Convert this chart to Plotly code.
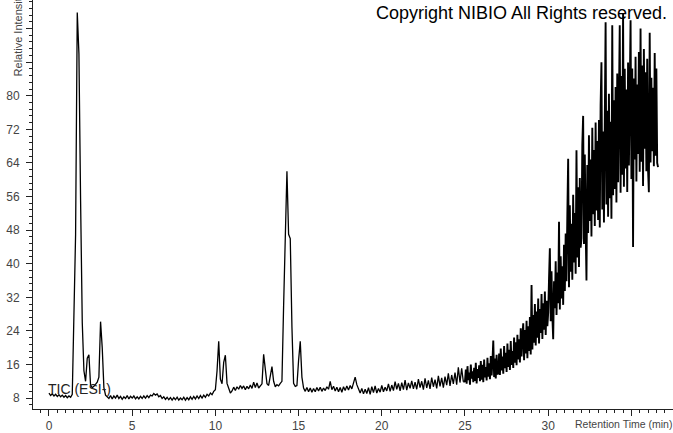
import numpy as np
import plotly.graph_objects as go

# Sampling intervals (min) of the two digitised parts of the chromatogram
dt_a = 0.1     # 0.0 - 24.9 min
t0_b = 25.0
dt_b = 0.05    # 25.00 - 36.60 min

# Relative intensity, 0.0 - 24.9 min (step 0.1)
tic_a = [
    9.2, 8.6, 9.0, 8.5, 8.9, 8.4, 8.8, 8.3, 8.7, 8.2, 8.6, 8.1, 8.5, 8.2, 8.9,
    24.5, 47.0, 99.8, 90.0, 55.0, 26.0, 14.5, 12.0, 17.5, 18.3, 11.0, 10.5, 10.8, 11.2, 11.8,
    13.0, 26.2, 20.0, 10.5, 8.7,
    8.3, 7.9, 8.6, 7.8, 8.5, 8.0, 8.7, 7.9, 8.4, 7.7, 8.3, 7.9, 8.6, 7.8, 8.4,
    8.0, 8.5, 7.8, 8.3, 7.8, 8.4, 7.9, 8.5, 8.0, 8.6, 8.1, 8.7, 8.5, 9.1, 8.7,
    9.0, 8.3, 8.6, 7.9, 8.3, 7.7, 8.2, 7.6, 8.1, 7.5, 8.1, 7.6, 8.2, 7.5, 8.0,
    7.6, 8.2, 7.5, 8.1, 7.6, 8.3, 7.7, 8.4, 7.8, 8.5, 7.9, 8.6, 8.0, 8.7, 8.2,
    8.9, 8.5, 9.2, 8.8, 9.6,
    10.0, 14.5, 21.5, 12.5, 11.4, 16.5, 18.2, 11.5, 10.2, 9.2,
    9.7, 10.6, 9.8, 10.7, 10.1, 11.0, 10.3, 10.9, 10.0, 10.8, 10.2, 11.1, 10.3, 11.8, 10.5,
    11.6, 10.4, 11.0, 11.4,
    18.4, 14.0, 11.4, 11.0, 13.5, 15.5, 12.0, 10.7, 11.2, 10.9, 11.5,
    12.0, 30.0, 45.0, 62.0, 47.0, 46.0, 25.0, 11.5, 10.8, 11.0,
    17.0, 21.5, 13.0, 10.4,
    9.6, 10.5, 9.5, 10.4, 9.4, 10.3, 9.5, 10.5, 9.7, 10.6, 9.6, 10.4, 9.8, 10.7, 10.1,
    12.0, 10.0, 10.8, 9.7, 10.6, 9.5, 10.5, 9.4, 10.7, 9.8, 10.9, 9.9, 11.0, 10.2, 11.4,
    13.0, 11.2, 10.0, 9.2, 10.3, 9.0, 10.1, 9.1, 10.5, 8.9, 10.7, 9.3, 10.9, 9.2, 10.3,
    9.4, 11.0, 9.5, 10.6, 9.7, 11.4, 9.6, 11.1, 9.8, 11.9, 10.1, 11.5, 9.7, 11.7, 10.0,
    12.3, 9.9, 11.6, 10.3, 12.1, 10.2, 11.8, 10.1, 12.5, 10.5, 12.0, 10.0, 12.7, 10.4, 12.2,
    10.2, 12.9, 10.7, 12.4, 10.3, 13.3, 10.8, 12.8, 10.5, 13.1, 11.1, 13.9, 10.9, 13.5, 11.4,
    14.1, 11.2, 15.3, 11.7, 15.1, 11.9,
]

# Relative intensity, 25.00 - 36.60 min (step 0.05)
tic_b = [
    12.0, 14.8, 11.4, 15.6, 12.3, 14.1, 11.2, 16.0, 12.6, 14.4, 11.8, 15.2, 12.1, 16.4, 11.5, 14.9, 12.8, 15.8, 12.0, 16.8,
    12.4, 15.9, 11.8, 17.2, 12.9, 15.4, 12.2, 17.6, 13.1, 16.3, 12.5, 18.0, 13.4, 16.7, 21.7, 13.0, 17.4, 12.7, 18.3, 13.6,
    14.0, 18.6, 13.5, 19.8, 14.6, 17.9, 13.8, 20.4, 15.1, 18.8, 14.2, 21.0, 15.4, 19.5, 14.7, 21.6, 15.9, 19.2, 15.2, 22.4,
    16.4, 21.3, 15.8, 23.1, 17.2, 22.0, 16.5, 24.6, 17.9, 22.8, 25.8, 17.0, 24.2, 18.6, 26.4, 17.5, 25.1, 19.2, 27.3, 18.4,
    34.9, 19.6, 27.8, 21.2, 30.4, 20.5, 28.6, 22.4, 31.7, 21.0, 29.2, 23.5, 32.8, 22.1, 30.6, 24.3, 33.4, 23.0, 31.2, 25.1,
    28.4, 36.5, 43.7, 26.3, 38.2, 27.5, 22.0, 35.8, 29.4, 40.6, 27.8, 37.9, 30.6, 50.0, 29.1, 41.8, 31.7, 39.4, 30.2, 44.5,
    33.5, 47.2, 35.8, 51.6, 65.0, 34.4, 53.9, 38.1, 49.5, 36.2, 56.4, 40.3, 52.1, 37.6, 67.0, 41.5, 58.2, 39.2, 60.4, 43.8,
    46.1, 68.3, 75.2, 44.7, 66.0, 48.9, 36.0, 63.5, 47.3, 70.6, 50.2, 64.8, 46.5, 72.4, 51.8, 67.1, 49.0, 73.6, 52.7, 69.2,
    50.4, 74.2, 48.6, 77.8, 88.0, 52.9, 71.5, 49.8, 79.3, 97.5, 54.1, 76.4, 51.2, 80.5, 55.6, 73.8, 50.7, 96.8, 56.3, 78.9,
    57.8, 82.1, 54.6, 85.3, 59.4, 80.2, 96.8, 56.9, 84.7, 61.2, 99.6, 58.3, 86.4, 62.7, 81.5, 57.1, 87.9, 63.4, 83.2, 98.0,
    60.2, 86.5, 44.0, 84.1, 64.8, 89.3, 59.6, 82.7, 66.1, 90.4, 61.9, 96.0, 64.3, 87.2, 58.5, 91.1, 67.4, 85.6, 62.0, 88.8,
    62.5, 57.0, 95.0, 64.1, 84.3, 66.8, 81.9, 63.2, 90.2, 65.7, 86.5, 64.0, 63.0,
]

x_tick_vals = [0, 5, 10, 15, 20, 25, 30, 35]
x_tick_text = ["0", "5", "10", "15", "20", "25", "30", ""]
y_tick_vals = [8, 16, 24, 32, 40, 48, 56, 64, 72, 80, 88, 96]
y_tick_text = ["8", "16", "24", "32", "40", "48", "56", "64", "72", "80", "", ""]

rt_a = np.round(np.arange(len(tic_a)) * dt_a, 3)
rt_b = np.round(t0_b + np.arange(len(tic_b)) * dt_b, 3)

FONT = "Liberation Sans, Arial, sans-serif"

fig = go.Figure()
# quiet part of the run
fig.add_trace(go.Scatter(x=rt_a, y=tic_a, mode="lines",
                         line=dict(color="black", width=1.3), hoverinfo="skip",
                         showlegend=False))
# noisy gradient part (joined to the last point of the first part)
fig.add_trace(go.Scatter(x=np.concatenate([rt_a[-1:], rt_b]),
                         y=np.concatenate([tic_a[-1:], tic_b]), mode="lines",
                         line=dict(color="black", width=1.9), hoverinfo="skip",
                         showlegend=False))

W, H = 673, 433
ML, MR, MT, MB = 33, 0, 0, 21
PW, PH = W - ML - MR, H - MT - MB

def px(x):
    return (x - ML) / PW

def py(y):
    return (H - MB - y) / PH

fig.update_layout(
    width=W, height=H,
    margin=dict(l=ML, r=MR, t=MT, b=MB, pad=0),
    paper_bgcolor="white", plot_bgcolor="white",
    font=dict(family=FONT, color="#333"),
    xaxis=dict(
        range=[-0.96, 37.5], tickmode="array", tickvals=x_tick_vals, ticktext=x_tick_text,
        ticks="outside", ticklen=6, tickcolor="#222", tickwidth=1,
        showline=True, linecolor="#222", linewidth=1, showgrid=False, zeroline=False,
        tickfont=dict(size=12, color="#444"),
        minor=dict(tickmode="linear", tick0=0, dtick=0.5, ticks="outside", ticklen=3,
                   tickcolor="#222", showgrid=False),
    ),
    yaxis=dict(
        range=[5.4, 102.8], tickmode="array", tickvals=y_tick_vals, ticktext=y_tick_text,
        ticks="outside", ticklen=6, tickcolor="#222", tickwidth=1,
        showline=True, linecolor="#222", linewidth=1, showgrid=False, zeroline=False,
        tickfont=dict(size=12, color="#444"), ticklabelstandoff=4,
        minor=dict(tickmode="linear", tick0=8, dtick=1.6, ticks="outside", ticklen=3,
                   tickcolor="#222", showgrid=False),
    ),
    annotations=[
        dict(text="Copyright NIBIO All Rights reserved.", xref="paper", yref="paper",
             x=px(521), y=py(13), xanchor="center", yanchor="middle", showarrow=False,
             font=dict(size=18, color="black", family=FONT)),
        dict(text="TIC (ESI-)", xref="paper", yref="paper",
             x=px(46), y=py(392), xanchor="left", yanchor="middle", showarrow=False,
             font=dict(size=14, color="#222", family=FONT)),
        dict(text="Retention Time (min)", xref="paper", yref="paper",
             x=px(623), y=py(427), xanchor="center", yanchor="middle", showarrow=False,
             font=dict(size=10.5, color="#444", family=FONT)),
        dict(text="Relative Intensity", xref="paper", yref="paper", textangle=-90,
             x=px(18), y=py(79), xanchor="center", yanchor="bottom", showarrow=False,
             font=dict(size=11, color="#444", family=FONT)),
    ],
)

fig.write_html("out.html", config={"displayModeBar": False, "staticPlot": True},
               post_script="document.body.style.margin='0';document.body.style.overflow='hidden';")
